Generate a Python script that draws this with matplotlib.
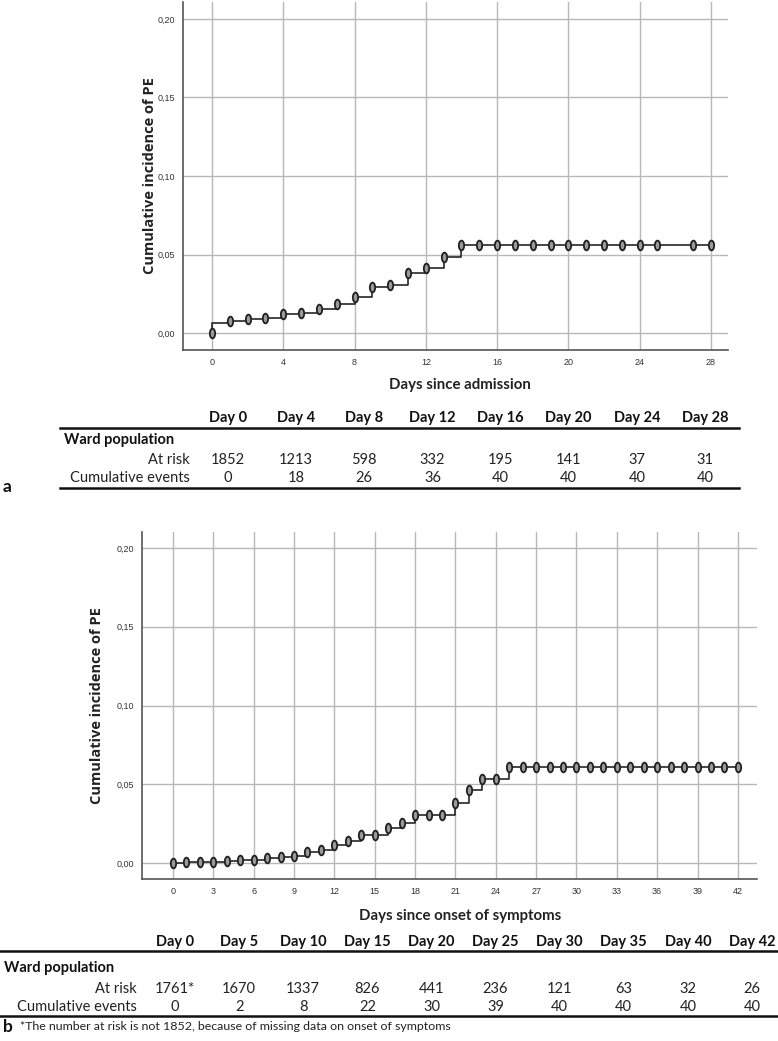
import numpy as np
import matplotlib.pyplot as plt
from matplotlib.path import Path
from matplotlib.lines import Line2D

# panel a: days since admission
step_days_a = [0, 1, 2, 3, 4, 5, 6, 7, 8, 9, 10, 11, 12, 13, 14, 28]
step_vals_a = [0.0065, 0.0078, 0.0087, 0.0094, 0.0120, 0.0128, 0.0152, 0.0184,
               0.0232, 0.0290, 0.0308, 0.0385, 0.0416, 0.0484, 0.0558, 0.0558]
cens_days_a = list(range(0, 26)) + [27, 28]
cens_vals_a = [0.0, 0.0078, 0.0087, 0.0094, 0.0120, 0.0128, 0.0152, 0.0184,
               0.0232, 0.0290, 0.0308, 0.0385, 0.0416, 0.0484] + [0.0558] * 14
xticks_a = [0, 4, 8, 12, 16, 20, 24, 28]
table_cols_a = ['Day 0', 'Day 4', 'Day 8', 'Day 12', 'Day 16', 'Day 20', 'Day 24', 'Day 28']
at_risk_a = ['1852', '1213', '598', '332', '195', '141', '37', '31']
events_a = ['0', '18', '26', '36', '40', '40', '40', '40']

# panel b: days since onset of symptoms
days_b = list(range(0, 43))
vals_b = [0.0, 0.0006, 0.0006, 0.0006, 0.0013, 0.0019, 0.0019, 0.0030, 0.0036,
          0.0043, 0.0070, 0.0083, 0.0117, 0.0138, 0.0180, 0.0180, 0.0220, 0.0253,
          0.0304, 0.0304, 0.0304, 0.0379, 0.0466, 0.0530, 0.0530] + [0.061] * 18
xticks_b = list(range(0, 43, 3))
table_cols_b = ['Day 0', 'Day 5', 'Day 10', 'Day 15', 'Day 20', 'Day 25', 'Day 30',
                'Day 35', 'Day 40', 'Day 42']
at_risk_b = ['1761*', '1670', '1337', '826', '441', '236', '121', '63', '32', '26']
events_b = ['0', '2', '8', '22', '30', '39', '40', '40', '40', '40']

yticks = [0.0, 0.05, 0.10, 0.15, 0.20]

W, H = 778, 1041
def fx(px):
    return px / W
def fy(py):
    return 1 - py / H

txt_font = ['Lato', 'DejaVu Sans']
ylab_font = ['Open Sans', 'DejaVu Sans']
tick_font = ['Liberation Sans Narrow', 'Liberation Sans', 'DejaVu Sans']

circ = Path.unit_circle()
oval = Path(circ.vertices * np.array([0.55, 1.0]), circ.codes)

fig = plt.figure(figsize=(W / 100, H / 100), dpi=100)


def km_axes(box, xlim, ylim, xticks):
    ax = fig.add_axes(box)
    ax.set_xlim(*xlim)
    ax.set_ylim(*ylim)
    ax.set_xticks(xticks)
    ax.set_yticks(yticks)
    ax.set_yticklabels([f'{v:.2f}'.replace('.', ',') for v in yticks])
    ax.tick_params(length=0, labelsize=6.5, colors='#333333', pad=6)
    for lab in ax.get_xticklabels() + ax.get_yticklabels():
        lab.set_family(tick_font)
    for s in ['top', 'right']:
        ax.spines[s].set_visible(False)
    for s in ['left', 'bottom']:
        ax.spines[s].set_color('#555555')
        ax.spines[s].set_linewidth(1.2)
    ax.grid(True, color='#b8b8b8', lw=1.0)
    ax.set_axisbelow(True)
    return ax


# ---- panel a ----
ax1 = km_axes([fx(183), fy(350), fx(728) - fx(183), fy(2) - fy(350)],
              (-1.63, 28.96), (-0.0108, 0.2108), xticks_a)
ax1.step([0] + step_days_a, [0] + step_vals_a, where='post', color='#262626', lw=1.2)
ax1.plot(cens_days_a, cens_vals_a, ls='none', marker=oval, ms=7,
         mfc='#9a9a9a', mec='#202020', mew=1.3)

# ---- panel b ----
ax2 = km_axes([fx(142), fy(879), fx(757) - fx(142), fy(532) - fy(879)],
              (-2.3, 43.42), (-0.0102, 0.2102), xticks_b)
ax2.step(days_b, vals_b, where='post', color='#262626', lw=1.2)
ax2.plot(days_b, vals_b, ls='none', marker=oval, ms=7,
         mfc='#9a9a9a', mec='#202020', mew=1.3)

# axis labels
fig.text(fx(150), fy(176), 'Cumulative incidence of PE', rotation=90, ha='center',
         va='center', fontsize=10.5, fontweight='bold', family=ylab_font, color='#222222')
fig.text(fx(460), fy(385), 'Days since admission', ha='center', va='center',
         fontsize=10.8, fontweight='bold', family=txt_font, color='#222222')
fig.text(fx(97), fy(706), 'Cumulative incidence of PE', rotation=90, ha='center',
         va='center', fontsize=10.5, fontweight='bold', family=ylab_font, color='#222222')
fig.text(fx(460), fy(916), 'Days since onset of symptoms', ha='center', va='center',
         fontsize=10.8, fontweight='bold', family=txt_font, color='#222222')


def risk_table(cols, risk, ev, x0, x1, xl, xr, y_head, y_top, y_ward, y_risk, y_ev, y_bot):
    xs = np.linspace(x0, x1, len(cols))
    fs = 10.5
    for x, c, r, e in zip(xs, cols, risk, ev):
        fig.text(fx(x), fy(y_head), c, ha='center', va='center', fontsize=fs,
                 fontweight='bold', family=txt_font, color='#111111')
        fig.text(fx(x), fy(y_risk), r, ha='center', va='center', fontsize=fs,
                 family=txt_font, color='#222222')
        fig.text(fx(x), fy(y_ev), e, ha='center', va='center', fontsize=fs,
                 family=txt_font, color='#222222')
    fig.text(fx(xl + 4), fy(y_ward), 'Ward population', ha='left', va='center',
             fontsize=fs, fontweight='bold', family=txt_font, color='#111111')
    fig.text(fx(x0 - 38), fy(y_risk), 'At risk', ha='right', va='center', fontsize=fs,
             family=txt_font, color='#222222')
    fig.text(fx(x0 - 38), fy(y_ev), 'Cumulative events', ha='right', va='center',
             fontsize=fs, family=txt_font, color='#222222')
    for y in (y_top, y_bot):
        fig.add_artist(Line2D([fx(xl), fx(xr)], [fy(y), fy(y)], color='#111111', lw=1.8))


risk_table(table_cols_a, at_risk_a, events_a, 228, 705, 60, 739,
           418, 428, 440, 460, 478, 488)
risk_table(table_cols_b, at_risk_b, events_b, 175, 752, 0, 778,
           942, 951, 968, 989, 1007, 1016)

fig.text(fx(3), fy(487), 'a', ha='left', va='center', fontsize=12.5, fontweight='bold',
         family=txt_font, color='#111111')
fig.text(fx(3), fy(1027), 'b', ha='left', va='center', fontsize=12.5, fontweight='bold',
         family=txt_font, color='#111111')
fig.text(fx(20), fy(1027), '*The number at risk is not 1852, because of missing data on onset of symptoms',
         ha='left', va='center', fontsize=8.9, family=txt_font, color='#222222')

fig.savefig('out.png', dpi=100)
